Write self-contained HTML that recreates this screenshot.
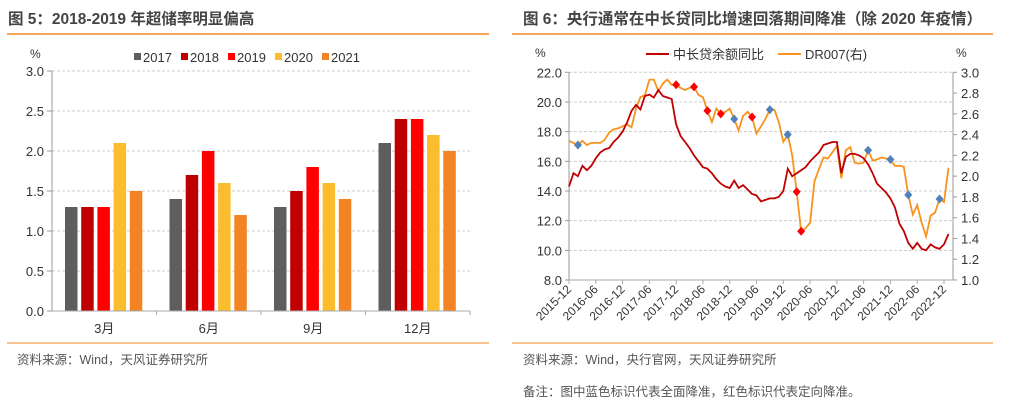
<!DOCTYPE html>
<html><head><meta charset="utf-8">
<style>
body{margin:0;background:#fff;width:1014px;height:416px;overflow:hidden;font-family:"Liberation Sans","Noto Sans CJK SC",sans-serif;}
svg{position:absolute;left:0;top:0}
</style></head>
<body>
<svg id="s" width="1014" height="416" xmlns="http://www.w3.org/2000/svg" font-family="Liberation Sans, Noto Sans CJK SC, sans-serif">
<text x="8" y="24" font-size="15.5" font-weight="bold" fill="#444">图 5：2018-2019 年超储率明显偏高</text>
<line x1="7" y1="34" x2="489" y2="34" stroke="#F08A24" stroke-width="1.5"/>
<text x="523" y="24" font-size="15.5" font-weight="bold" fill="#444">图 6：央行通常在中长贷同比增速回落期间降准（除 2020 年疫情）</text>
<line x1="512" y1="34" x2="993" y2="34" stroke="#F08A24" stroke-width="1.5"/>
<line x1="7" y1="343" x2="489" y2="343" stroke="#F08A24" stroke-width="1"/>
<line x1="512" y1="343" x2="993" y2="343" stroke="#F08A24" stroke-width="1"/>
<text x="17" y="364" font-size="12.5" fill="#555">资料来源：Wind，天风证券研究所</text>
<text x="523" y="364" font-size="12.5" fill="#555">资料来源：Wind，央行官网，天风证券研究所</text>
<text x="523" y="396" font-size="12.5" fill="#555">备注：图中蓝色标识代表全面降准，红色标识代表定向降准。</text>
<g id="left"></g>
<g id="right"></g>
</svg>
<script>
// ---- left chart data ----
const barCats = ['3月','6月','9月','12月'];
const barYears = ['2017','2018','2019','2020','2021'];
const v2017 = [1.3,1.4,1.3,2.1];
const v2018 = [1.3,1.7,1.5,2.4];
const v2019 = [1.3,2.0,1.8,2.4];
const v2020 = [2.1,1.6,1.6,2.2];
const v2021 = [1.5,1.2,1.4,2.0];
const barTicks = ['0.0','0.5','1.0','1.5','2.0','2.5','3.0'];
// ---- right chart data ----
const xLabels = ['2015-12','2016-06','2016-12','2017-06','2017-12','2018-06','2018-12','2019-06','2019-12','2020-06','2020-12','2021-06','2021-12','2022-06','2022-12'];
const loanYoY = [14.3,15.2,15.0,15.7,15.4,15.7,16.2,16.6,16.8,16.9,17.3,17.6,18.0,18.6,19.4,19.8,19.5,20.4,20.5,20.3,20.8,20.4,20.3,20.2,18.5,17.7,17.3,16.9,16.4,16.0,15.6,15.5,15.2,14.8,14.5,14.3,14.2,14.7,14.2,14.4,14.1,13.8,13.7,13.3,13.4,13.5,13.5,13.6,14.0,15.5,15.0,15.2,15.4,15.6,16.0,16.3,16.6,17.1,17.2,17.3,17.3,15.2,16.3,16.5,16.5,16.4,16.2,15.8,15.2,14.5,14.2,13.9,13.5,12.9,11.8,11.3,10.5,10.1,10.5,10.1,10.0,10.4,10.2,10.1,10.4,11.1];
const dr007 = [2.34,2.32,2.30,2.34,2.30,2.32,2.32,2.32,2.35,2.42,2.45,2.46,2.48,2.50,2.47,2.65,2.76,2.78,2.93,2.93,2.82,2.89,2.93,2.88,2.88,2.85,2.83,2.85,2.86,2.78,2.76,2.63,2.52,2.65,2.60,2.62,2.65,2.55,2.44,2.58,2.62,2.57,2.41,2.48,2.55,2.64,2.64,2.52,2.33,2.40,2.20,1.85,1.47,1.50,1.55,1.95,2.07,2.18,2.17,2.23,2.29,1.98,2.25,2.28,2.13,2.12,2.13,2.25,2.15,2.16,2.18,2.17,2.16,2.10,2.10,2.09,1.82,1.63,1.72,1.55,1.42,1.62,1.65,1.78,1.75,2.08];
const broadCuts = [2,37,45,49,67,72,76,83];
const targetedCuts = [24,28,31,34,41,51,52];
const leftTicks = ['8.0','10.0','12.0','14.0','16.0','18.0','20.0','22.0'];
const rightTicks = ['1.0','1.2','1.4','1.6','1.8','2.0','2.2','2.4','2.6','2.8','3.0'];

const NS='http://www.w3.org/2000/svg';
function mk(p,tag,at,txt){const e=document.createElementNS(NS,tag);for(const k in at)e.setAttribute(k,at[k]);if(txt!=null)e.textContent=txt;p.appendChild(e);return e;}

// ---- left chart ----
(function(){
const g=document.getElementById('left');
const x0=52,x1=470,y0=311,y1=71;
const yS=v=>y0-(v/3)*(y0-y1);
const band=(x1-x0)/barCats.length;
const cols=['#5E5E5E','#C00000','#FF0000','#FBBC2E','#F38323'];
const series=[v2017,v2018,v2019,v2020,v2021];
barTicks.forEach(t=>{const y=yS(+t);
 if(+t>0){const l=mk(g,'line',{x1:x0,x2:x1,y1:y,y2:y,stroke:'#ccc','stroke-dasharray':'3,2'});}
 const tk=mk(g,'line',{x1:x0-5,x2:x0,y1:y,y2:y,stroke:'#999'});
 const tx=mk(g,'text',{x:x0-8,y:y+5,'font-size':13,fill:'#333','text-anchor':'end'},t);});
let u=mk(g,'text',{x:30,y:58,'font-size':12,fill:'#333'},'%');
series.forEach((s,si)=>s.forEach((v,ci)=>{
 const bx=x0+ci*band+13+si*16.2;
 const r=mk(g,'rect',{x:bx,y:yS(v),width:12.5,height:y0-yS(v),fill:cols[si]});
 }));
let ax=mk(g,'line',{x1:x0,x2:x0,y1:y1,y2:y0,stroke:'#999'});
ax=mk(g,'line',{x1:x0,x2:x1,y1:y0,y2:y0,stroke:'#aaa'});
barCats.forEach((c,ci)=>{
 const tk=mk(g,'line',{x1:x0+(ci+1)*band,x2:x0+(ci+1)*band,y1:y0,y2:y0+4,stroke:'#aaa'});
 const t=mk(g,'text',{x:x0+(ci+.5)*band,y:333,'font-size':13,fill:'#333','text-anchor':'middle'},c);});
barYears.forEach((yr,i)=>{const lx=134+i*47;
 const sw=mk(g,'rect',{x:lx,y:53,width:7,height:7,fill:cols[i]});
 const t=mk(g,'text',{x:lx+9,y:62,'font-size':13,fill:'#333'},yr);});
})();

// ---- right chart ----
(function(){
const g=document.getElementById('right');
const x0=569,x1=953,y0=280,y1=72.3;
const xS=m=>x0+m*(944-569)/84;
const yL=v=>y0-(v-8)/14*(y0-y1);
const yR=v=>y0-(v-1)/2*(y0-y1);
leftTicks.forEach(t=>{const y=yL(+t);
 if(+t>8){const l=mk(g,'line',{x1:x0,x2:x1,y1:y,y2:y,stroke:'#ccc','stroke-dasharray':'3,2'});}
 const tk=mk(g,'line',{x1:x0-4,x2:x0,y1:y,y2:y,stroke:'#999'});
 const tx=mk(g,'text',{x:x0-7,y:y+5,'font-size':13,fill:'#333','text-anchor':'end'},t);});
rightTicks.forEach(t=>{const y=yR(+t);
 const tk=mk(g,'line',{x1:x1,x2:x1+4,y1:y,y2:y,stroke:'#999'});
 const tx=mk(g,'text',{x:x1+8,y:y+5,'font-size':13,fill:'#333'},t);});
let e=mk(g,'text',{x:535,y:57,'font-size':12,fill:'#333'},'%');
e=mk(g,'text',{x:956,y:57,'font-size':12,fill:'#333'},'%');
e=mk(g,'line',{x1:x0,x2:x0,y1:y1,y2:y0,stroke:'#999'});
e=mk(g,'line',{x1:x1,x2:x1,y1:y1,y2:y0,stroke:'#999'});
e=mk(g,'line',{x1:x0,x2:x1,y1:y0,y2:y0,stroke:'#aaa'});
xLabels.forEach((l,i)=>{const x=xS(i*6);
 const tk=mk(g,'line',{x1:x,x2:x,y1:y0,y2:y0+4,stroke:'#aaa'});
 const t=mk(g,'text',{x:x+3,y:y0+10,'font-size':12,fill:'#333','text-anchor':'end',transform:`rotate(-45 ${x+3} ${y0+10})`},l);});
const p1=loanYoY.map((v,i)=>(i?'L':'M')+xS(i).toFixed(1)+','+yL(v).toFixed(1)).join('');
const p2=dr007.map((v,i)=>(i?'L':'M')+xS(i).toFixed(1)+','+yR(v).toFixed(1)).join('');
e=mk(g,'path',{d:p2,fill:'none',stroke:'#F7931E','stroke-width':1.8});
e=mk(g,'path',{d:p1,fill:'none',stroke:'#C00000','stroke-width':1.8});
function dia(i,c,n){const x=xS(i),y=yR(dr007[i]);
 const d=mk(g,'path',{d:`M${x},${y-4.5}L${x+4},${y}L${x},${y+4.5}L${x-4},${y}Z`,fill:c});
 }
broadCuts.forEach(i=>dia(i,'#4F81BD','broad-rrr-cut-marker'));
targetedCuts.forEach(i=>dia(i,'#FF0000','targeted-rrr-cut-marker'));
e=mk(g,'line',{x1:646,x2:669,y1:54,y2:54,stroke:'#C00000','stroke-width':2});
e=mk(g,'text',{x:673,y:59,'font-size':13,fill:'#333'},'中长贷余额同比');
e=mk(g,'line',{x1:778,x2:801,y1:54,y2:54,stroke:'#F7931E','stroke-width':2});
e=mk(g,'text',{x:805,y:59,'font-size':13,fill:'#333'},'DR007(右)');
})();
</script>
</body></html>
